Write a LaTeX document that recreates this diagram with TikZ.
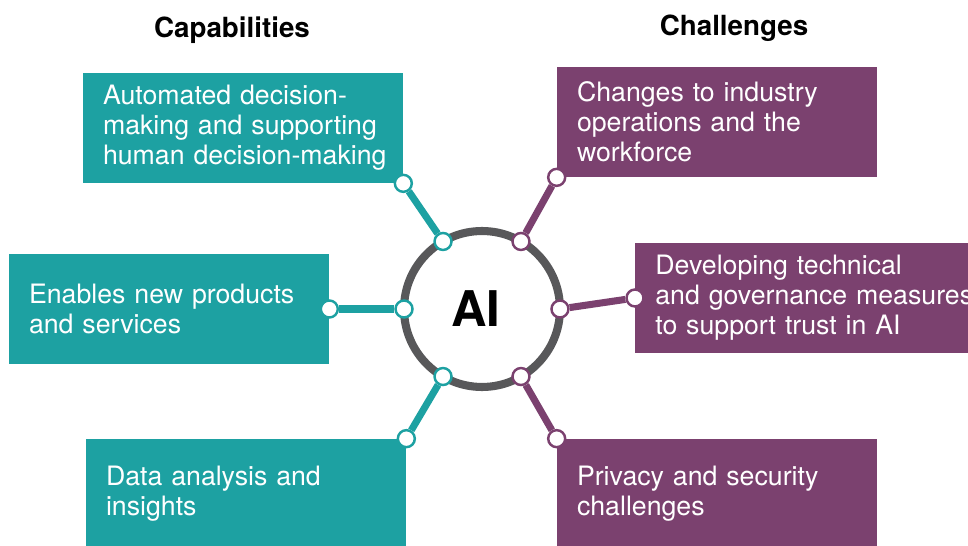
\documentclass[tikz,border=0pt]{standalone}
\usepackage{fontspec}
\setmainfont{TeX Gyre Heros}
\usetikzlibrary{positioning}
\definecolor{capteal}{RGB}{29,161,162}
\definecolor{chapurple}{RGB}{123,65,111}
\definecolor{ringgray}{RGB}{88,88,90}

\begin{document}
\begin{tikzpicture}[x=0.02cm, y=0.02cm,
    box/.style={rectangle, minimum height=2.2cm, text width=5.6cm, inner xsep=0.4cm, inner ysep=0pt,
                align=left, text=white, font=\fontsize{15.2}{17.1}\selectfont},
    dot/.style={circle, draw=#1, fill=white, line width=1.4pt, minimum size=0.34cm, inner sep=0pt},
    link/.style={line width=4pt, #1},
    head/.style={font=\fontsize{15.8}{18}\selectfont\bfseries}]
    \clip (0,0) rectangle (968,545);
    \node[head] (caphead) at (232,515) {Capabilities};
    \node[head] (chahead) at (734,517) {Challenges};
    % left column
    \node[box, fill=capteal] (capA) at (243,417) {Automated decision-\\making and supporting\\\mbox{human decision-making}};
    \node[box, fill=capteal] (capB) at (169,236) {Enables new products\\and services};
    \node[box, fill=capteal] (capC) at (246,51) {Data analysis and\\insights};
    % right column
    \node[box, fill=chapurple] (chaA) at (717,423) {Changes to industry\\operations and the\\workforce};
    \node[box, fill=chapurple, anchor=west, text width=6.6cm] (chaB) at (635,247) {Developing technical\\and governance measures\\to support trust in AI};
    \node[box, fill=chapurple] (chaC) at (717,51) {Privacy and security\\challenges};
    % hub
    \node[circle, draw=ringgray, line width=4.6pt, fill=white, minimum size=3.12cm, outer sep=0pt,
          font=\fontsize{28}{30}\selectfont\bfseries] (ai) at (482,236) {\hspace*{-0.24cm}AI};
    \node[dot=capteal] (r1) at (ai.120) {};
    \node[dot=capteal] (r2) at (ai.180) {};
    \node[dot=capteal] (r3) at (ai.240) {};
    \node[dot=chapurple] (r4) at (ai.60) {};
    \node[dot=chapurple] (r5) at (ai.0) {};
    \node[dot=chapurple] (r6) at (ai.300) {};
    \node[dot=capteal] (b1) at (capA.south east) {};
    \node[dot=capteal] (b2) at (capB.east) {};
    \node[dot=capteal] (b3) at (capC.north east) {};
    \node[dot=chapurple] (b4) at (chaA.south west) {};
    \node[dot=chapurple] (b5) at (chaB.west) {};
    \node[dot=chapurple] (b6) at (chaC.north west) {};
    \draw[link=capteal] (r1) -- (b1); \draw[link=capteal] (r2) -- (b2); \draw[link=capteal] (r3) -- (b3);
    \draw[link=chapurple] (r4) -- (b4); \draw[link=chapurple] (r5) -- (b5); \draw[link=chapurple] (r6) -- (b6);
\end{tikzpicture}
\end{document}
